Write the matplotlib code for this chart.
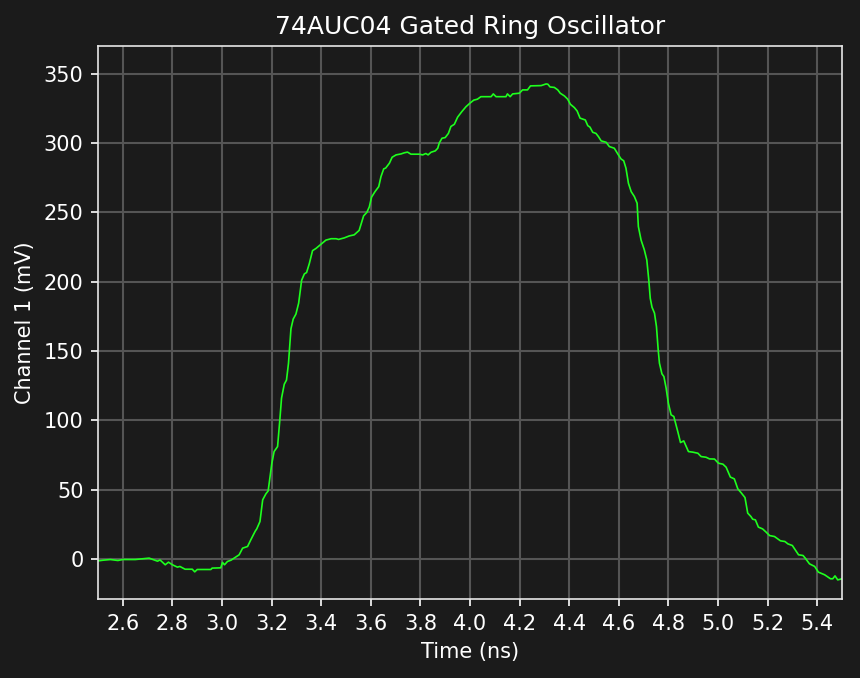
import numpy as np
from matplotlib import pyplot as plt

# time (ns) and channel 1 voltage (mV)
time_ns = [
    2.50, 2.52, 2.55, 2.58, 2.60, 2.65, 2.706, 2.74, 2.75, 2.771, 2.784, 2.80,
    2.82, 2.83, 2.851, 2.88, 2.89, 2.90, 2.955, 2.96, 2.995, 3.002, 3.01, 3.022,
    3.036, 3.069, 3.083, 3.103, 3.116, 3.134, 3.14, 3.153, 3.164, 3.177, 3.186,
    3.201, 3.21, 3.224, 3.233, 3.240, 3.251, 3.26, 3.268, 3.278, 3.287, 3.298,
    3.309, 3.321, 3.332, 3.341, 3.352, 3.365, 3.379, 3.406, 3.419, 3.44, 3.46,
    3.47, 3.493, 3.513, 3.533, 3.553, 3.571, 3.584, 3.594, 3.603, 3.617, 3.632,
    3.641, 3.652, 3.66, 3.675, 3.686, 3.702, 3.722, 3.735, 3.748, 3.762, 3.796,
    3.809, 3.822, 3.831, 3.843, 3.86, 3.87, 3.876, 3.887, 3.90, 3.913, 3.923,
    3.937, 3.95, 3.967, 3.984, 4.001, 4.015, 4.03, 4.044, 4.085, 4.094, 4.105,
    4.145, 4.151, 4.162, 4.172, 4.199, 4.212, 4.232, 4.244, 4.287, 4.307, 4.314,
    4.323, 4.34, 4.354, 4.364, 4.381, 4.394, 4.405, 4.421, 4.432, 4.444, 4.465,
    4.475, 4.484, 4.495, 4.508, 4.518, 4.529, 4.549, 4.562, 4.582, 4.596, 4.609,
    4.62, 4.629, 4.639, 4.65, 4.663, 4.674, 4.679, 4.69, 4.703, 4.713, 4.721,
    4.727, 4.734, 4.744, 4.752, 4.759, 4.764, 4.774, 4.782, 4.791, 4.80, 4.811,
    4.822, 4.831, 4.838, 4.849, 4.862, 4.881, 4.898, 4.919, 4.932, 4.952, 4.966,
    4.986, 5.002, 5.02, 5.033, 5.05, 5.066, 5.08, 5.093, 5.109, 5.12, 5.133,
    5.14, 5.151, 5.163, 5.18, 5.194, 5.208, 5.228, 5.252, 5.27, 5.282, 5.30,
    5.309, 5.325, 5.343, 5.352, 5.369, 5.39, 5.405, 5.43, 5.454, 5.463, 5.472,
    5.483, 5.50,
]
channel1_mv = [
    -1.5, -1.0, -0.5, -1.2, -0.5, -0.5, 0.5, -1.7, -0.8, -4.3, -2.4, -4.3,
    -6.0, -5.5, -7.5, -7.5, -9.4, -7.7, -7.7, -6.7, -6.5, -2.6, -4.3, -1.9,
    -1.0, 2.9, 7.7, 8.9, 13.7, 20.0, 21.6, 26.9, 42.6, 46.9, 49.0,
    69.0, 77.4, 81.0, 100.0, 116.0, 126.0, 129.0, 141.0, 166.0, 173.0, 176.6,
    184.5, 201.0, 205.6, 206.6, 213.0, 222.4, 224.0, 228.0, 230.0, 231.0, 231.0,
    230.5, 231.6, 233.0, 233.8, 237.0, 247.5, 250.0, 254.0, 261.0, 265.0, 268.6,
    275.8, 281.4, 282.0, 285.5, 289.8, 291.5, 292.2, 293.0, 293.5, 292.0, 292.0,
    291.5, 292.5, 291.5, 293.4, 294.4, 296.3, 300.0, 303.5, 304.0, 307.0, 312.0,
    313.6, 318.7, 322.7, 326.3, 329.0, 331.0, 331.7, 333.5, 333.5, 335.5, 333.5,
    333.5, 335.5, 333.5, 335.5, 336.0, 338.4, 338.4, 341.3, 341.5, 342.7, 342.5,
    340.5, 340.2, 338.4, 336.0, 334.0, 331.7, 328.0, 325.6, 323.2, 318.0, 316.7,
    312.6, 311.5, 307.8, 307.0, 304.7, 301.6, 300.6, 297.5, 296.3, 292.2, 288.6,
    287.2, 281.9, 271.0, 265.0, 261.4, 256.6, 239.8, 230.0, 223.0, 215.7, 201.3,
    188.0, 181.6, 177.3, 167.6, 150.8, 141.2, 133.5, 131.5, 123.2, 112.3, 103.9,
    102.7, 96.7, 91.8, 83.9, 85.1, 77.4, 77.0, 76.2, 73.8, 73.3, 72.1,
    72.0, 69.0, 68.3, 66.1, 59.0, 57.7, 50.5, 47.8, 44.2, 33.0, 30.5,
    28.6, 28.1, 22.9, 21.6, 19.3, 16.8, 16.1, 13.0, 12.5, 10.8, 9.6,
    7.2, 2.9, 2.4, 0.5, -3.6, -5.5, -9.6, -11.5, -14.4, -14.4, -12.3,
    -15.2, -14.4,
]

bg = '#1b1b1b'
fg = 'white'

fig = plt.figure(figsize=(8.6 / 1.5, 6.78 / 1.5), dpi=150, facecolor=bg)
ax = fig.add_axes([0.114, 0.1165, 0.865, 0.8155], facecolor=bg)

ax.plot(time_ns, channel1_mv, color='#1eff1e', linewidth=0.8)

ax.set_xlim(2.5, 5.5)
ax.set_ylim(-29, 370)
ax.set_xticks(np.arange(2.6, 5.41, 0.2))
ax.set_yticks(np.arange(0, 351, 50))

ax.grid(True, color='#555555', linewidth=1.0)
ax.set_axisbelow(True)
for s in ax.spines.values():
    s.set_color('#e6e6e6')
ax.tick_params(colors=fg, labelsize=10)

ax.set_title('74AUC04 Gated Ring Oscillator', color=fg, fontsize=12)
ax.set_xlabel('Time (ns)', color=fg, fontsize=10)
ax.set_ylabel('Channel 1 (mV)', color=fg, fontsize=10)

fig.savefig('out.png', dpi=150, facecolor=bg)
